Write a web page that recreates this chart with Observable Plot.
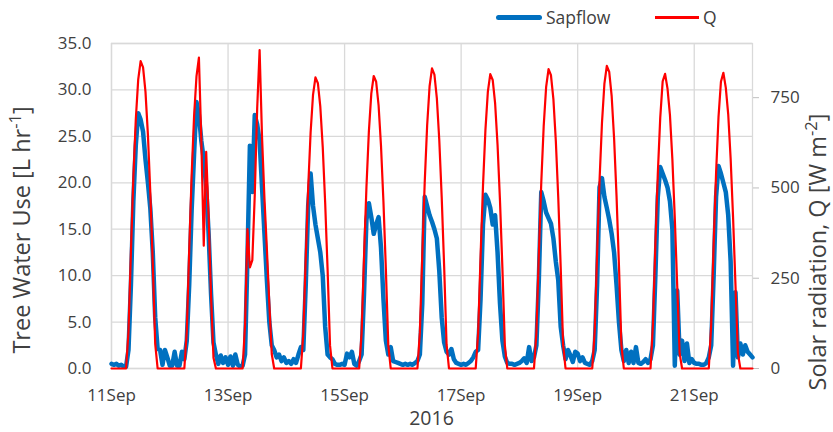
<!DOCTYPE html>
<html>
<head>
<meta charset="utf-8">
<script src="https://cdn.jsdelivr.net/npm/d3@7"></script>
<script src="https://cdn.jsdelivr.net/npm/@observablehq/plot@0.6"></script>
<style>
  body { margin: 0; background: #fff; }
  #wrap { position: relative; width: 833px; height: 432px; overflow: hidden; font-family: "Open Sans", sans-serif; color: #404040; background: #fff; }
  #wrap svg { position: absolute; left: 0; top: 0; }
  .lab { position: absolute; white-space: nowrap; line-height: 1; }
  .rot { font-size: 23.5px; transform: translate(-50%, -50%) rotate(-90deg); }
  .rot sup { font-size: 0.7em; vertical-align: 0.55em; line-height: 0; }
  .sw { position: absolute; }
</style>
</head>
<body>
<div id="wrap"></div>
<script>
// ---- data (hourly, starting 11 Sep 2016 00:00) ----
const startDate = "2016-09-11T00:00:00Z";
const xTickDays = [11, 13, 15, 17, 19, 21];
const xTickLabels = ["11Sep", "13Sep", "15Sep", "17Sep", "19Sep", "21Sep"];
const leftTicks = [0, 5, 10, 15, 20, 25, 30, 35];
const rightTicks = [0, 250, 500, 750];
const seriesNames = ["Sapflow", "Q"];
const xLabel = "2016";

// Sapflow, L hr-1 (one line per day, hours 0..23) + final point 22 Sep 00:00
const sapflow = [
  0.5, 0.4, 0.5, 0.3, 0.4, 0.2, 0.2, 2, 9, 18, 24, 27.5, 26.8, 25.5, 22.5, 20, 17.2, 12.5, 5.5, 2.1, 2.0, 0.4, 2.0, 1.2,
  0.3, 0.3, 1.8, 0.3, 0.3, 1.8, 1.0, 3, 9, 17, 23, 28.7, 27.3, 24.5, 22.5, 19.5, 14.5, 8, 2.8, 1.5, 0.5, 1.4, 0.6, 1.2,
  0.4, 1.3, 0.3, 1.5, 0.4, 0.2, 0.3, 1.5, 12, 24, 19, 27.3, 26.3, 24.5, 19.5, 14.5, 9.5, 5, 2.5, 2.0, 1.2, 1.5, 0.8, 1.2,
  0.6, 0.8, 0.5, 1.0, 0.6, 1.5, 2.3, 2, 9, 17.5, 21, 17.5, 15.5, 14, 12.5, 10, 4.5, 1.5, 1.2, 1.0, 0.5, 0.4, 0.4, 0.5,
  0.4, 1.6, 1.2, 1.8, 0.5, 0.3, 0.8, 1.5, 8, 16, 17.8, 16.3, 14.5, 15.5, 16.3, 13, 7.5, 3, 1.5, 2.3, 0.8, 0.7, 0.6, 0.5,
  0.4, 0.5, 0.4, 0.5, 0.4, 0.6, 0.8, 1.5, 7, 18.5, 17.5, 16.5, 15.8, 15, 14, 10.5, 5.5, 2.8, 1.8, 1.5, 2.1, 1.0, 0.6, 0.5,
  0.4, 0.5, 0.4, 0.6, 0.8, 1.2, 1.8, 2, 7.5, 15.5, 18.7, 18.2, 17.3, 15.5, 16.5, 12.5, 7, 3, 1.3, 0.6, 0.5, 0.5, 0.4, 0.5,
  0.6, 0.8, 1.1, 0.6, 2.3, 0.8, 1.2, 2.5, 9.5, 19, 18, 16.8, 16.2, 15.6, 14, 11.5, 9.5, 4.5, 2.5, 1.0, 2.0, 1.4, 0.7, 1.8,
  1.6, 0.8, 1.2, 0.6, 0.5, 0.4, 0.8, 2, 9, 19.5, 20.5, 18.5, 17.3, 16, 14.5, 12.5, 9, 5, 2, 0.8, 2.0, 0.6, 1.8, 0.6,
  2.3, 0.6, 0.5, 0.7, 1.0, 0.6, 1.0, 2.5, 10, 18.5, 21.7, 21, 20.3, 19.5, 18, 15, 0.3, 8.4, 1.5, 3.0, 0.8, 2.7, 0.6, 1.0,
  0.6, 0.5, 0.5, 0.4, 0.4, 0.6, 1.2, 2.5, 10, 18.5, 21.8, 21, 20, 19, 16.5, 11.5, 0.3, 8.2, 1.2, 2.7, 1.5, 2.5, 1.8, 1.5,
  1.2
];

// Solar radiation Q, W m-2 (one line per day, hours 0..23) + final point
const solarQ = [
  0, 0, 0, 0, 0, 0, 0, 102, 323, 528, 689, 800, 851, 834, 766, 647, 485, 289, 68, 0, 0, 0, 0, 0,
  0, 0, 0, 0, 0, 0, 0, 103, 327, 534, 697, 809, 861, 630, 340, 600, 420, 200, 30, 0, 0, 0, 0, 0,
  0, 0, 0, 0, 0, 0, 0, 120, 386, 280, 300, 480, 720, 882, 640, 470, 330, 180, 40, 0, 0, 0, 0, 0,
  0, 0, 0, 0, 0, 0, 0, 97, 306, 500, 653, 758, 806, 790, 725, 613, 459, 274, 64, 0, 0, 0, 0, 0,
  0, 0, 0, 0, 0, 0, 0, 97, 308, 502, 656, 761, 810, 794, 729, 616, 462, 275, 65, 0, 0, 0, 0, 0,
  0, 0, 0, 0, 0, 0, 0, 100, 316, 515, 673, 781, 831, 814, 748, 632, 474, 283, 66, 0, 0, 0, 0, 0,
  0, 0, 0, 0, 0, 0, 0, 98, 310, 505, 660, 766, 815, 799, 734, 619, 465, 277, 65, 0, 0, 0, 0, 0,
  0, 0, 0, 0, 0, 0, 0, 99, 315, 514, 671, 779, 829, 812, 746, 630, 473, 282, 66, 0, 0, 0, 0, 0,
  0, 0, 0, 0, 0, 0, 0, 101, 318, 520, 679, 788, 838, 821, 754, 637, 478, 285, 67, 0, 0, 0, 0, 0,
  0, 0, 0, 0, 0, 0, 0, 122, 343, 539, 694, 795, 816, 775, 702, 579, 416, 228, 41, 0, 0, 0, 0, 0,
  0, 0, 0, 0, 0, 0, 0, 123, 344, 541, 696, 794, 819, 778, 704, 581, 418, 229, 41, 0, 0, 0, 0, 0,
  0
];

// ---- build ----
const t0 = Date.parse(startDate);
const HOUR = 3600e3, DAY = 86400e3;
const qMax = 900, yMax = 35;
const k = yMax / qMax; // right axis -> left axis units
const rows = sapflow.map((v, i) => ({ t: new Date(t0 + i * HOUR), sap: v, q: solarQ[i] }));
const xTicks = xTickDays.map(d => new Date(Date.UTC(2016, 8, d)));
const grid = "#d9d9d9";

const chart = Plot.plot({
  width: 833,
  height: 432,
  marginLeft: 111,
  marginRight: 81,
  marginTop: 43,
  marginBottom: 64,
  style: { fontFamily: '"Open Sans", sans-serif', fontSize: "17px", color: "#404040", background: "transparent", overflow: "visible" },
  x: { type: "utc", domain: [new Date(t0), new Date(t0 + 11 * DAY)], label: null },
  y: { domain: [0, yMax], label: null },
  marks: [
    Plot.gridY(leftTicks, { stroke: grid, strokeOpacity: 1, strokeWidth: 1.3 }),
    Plot.gridX(xTicks, { stroke: grid, strokeOpacity: 1, strokeWidth: 1.3 }),
    Plot.frame({ stroke: grid, strokeWidth: 1.3 }),
    Plot.axisY(leftTicks, { anchor: "left", tickSize: 0, tickPadding: 20, tickFormat: d => d.toFixed(1), label: null, fill: "#404040" }),
    Plot.axisY(rightTicks.map(v => v * k), { anchor: "right", tickSize: 6, tickPadding: 12, stroke: "#bfbfbf", fill: "#404040", tickFormat: d => String(Math.round(d / k)), label: null }),
    Plot.axisX(xTicks, { anchor: "bottom", tickSize: 0, tickPadding: 20, tickFormat: d => xTickLabels[xTickDays.indexOf(d.getUTCDate())], label: null, fill: "#404040" }),
    Plot.lineY(rows, { x: "t", y: "sap", stroke: "#0070c0", strokeWidth: 4.5, strokeLinejoin: "round", strokeLinecap: "round" }),
    Plot.lineY(rows, { x: "t", y: d => d.q * k, stroke: "#ff0000", strokeWidth: 2.2, strokeLinejoin: "round" })
  ]
});

const wrap = document.getElementById("wrap");
wrap.appendChild(chart);

function addLabel(html, css, cls) {
  const d = document.createElement("div");
  d.className = "lab " + (cls || "");
  d.innerHTML = html;
  Object.assign(d.style, css);
  wrap.appendChild(d);
  return d;
}
function addSwatch(css) {
  const d = document.createElement("div");
  d.className = "sw";
  Object.assign(d.style, css);
  wrap.appendChild(d);
}

// axis titles
addLabel("Tree Water Use [L hr<sup>-1</sup>]", { left: "21.5px", top: "230px" }, "rot");
addLabel("Solar radiation, Q [W m<sup>-2</sup>]", { left: "818px", top: "251.5px" }, "rot");
addLabel(xLabel, { left: "431.5px", top: "408px", fontSize: "19.5px", transform: "translateX(-50%)" });

// legend
addSwatch({ left: "496px", top: "14.8px", width: "46px", height: "5px", background: "#0070c0", borderRadius: "2.5px" });
addLabel(seriesNames[0], { left: "546px", top: "5px", fontSize: "17.5px", lineHeight: "24px" });
addSwatch({ left: "655px", top: "16px", width: "44px", height: "2.6px", background: "#ff0000" });
addLabel(seriesNames[1], { left: "703px", top: "5px", fontSize: "17.5px", lineHeight: "24px" });
</script>
</body>
</html>
